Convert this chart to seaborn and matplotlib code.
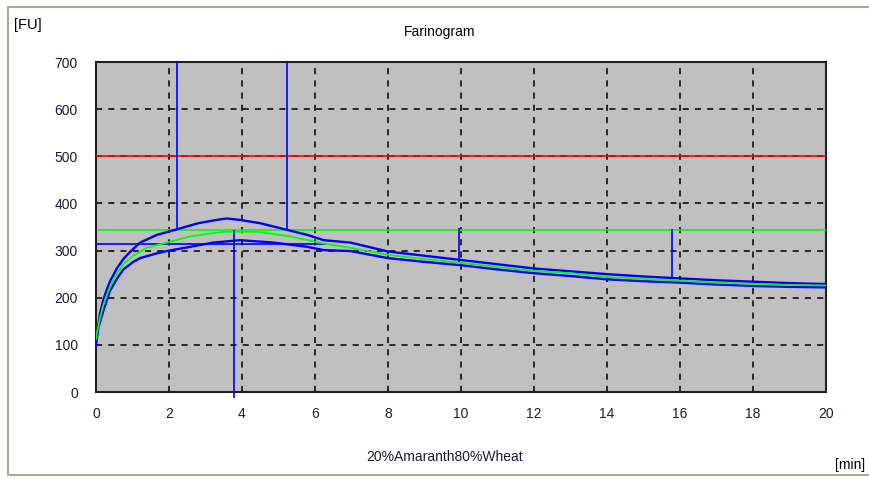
import matplotlib
matplotlib.use("Agg")
import matplotlib.pyplot as plt
from matplotlib.lines import Line2D
import seaborn as sns
import pandas as pd

# ---- data ----
t_upper = [0, 0.03, 0.11, 0.2, 0.29, 0.38, 0.57, 0.75, 0.93, 1.21, 1.66, 2.21, 2.8,
           3.3, 3.58, 3.95, 4.5, 5.23, 5.8, 6.24, 6.97, 8, 9, 10, 11, 12, 13, 14,
           15, 16, 17, 18, 19, 20]
upper = [108, 124, 167, 195, 216, 234, 262, 282, 297, 317, 333, 345, 358,
         365, 368, 365, 358, 344, 333, 322, 317, 298, 289, 280, 271, 262, 256, 250,
         245, 241, 237, 234, 231, 229]

t_lower = [0, 0.06, 0.2, 0.38, 0.57, 0.75, 1.02, 1.21, 1.66, 1.94, 2.58, 3.22, 3.95,
           4.86, 5.78, 6.24, 6.97, 8, 9, 10, 11, 12, 13, 14, 15, 16, 17, 18, 19, 20]
lower = [100, 135, 172, 214, 240, 260, 276, 284, 294, 299, 308, 317, 322,
         317, 308, 301, 299, 284, 276, 269, 260, 252, 246, 239, 235, 232, 228, 225,
         223, 222]

t_mean = [0, 0.02, 0.11, 0.2, 0.29, 0.48, 0.75, 1.02, 1.39, 1.94, 2.58, 3.49, 4.41,
          5.32, 6.24, 6.97, 8, 9, 10, 11, 12, 13, 14, 15, 16, 17, 18, 19, 20]
mean = [112, 124, 158, 184, 205, 240, 271, 289, 306, 317, 330, 340, 340,
        330, 315, 306, 291, 282, 274, 265, 257, 252, 244, 240, 236, 232, 229, 227, 226]

marker_t = [2.22, 5.24, 3.79, 9.94, 15.79]
marker_from = [700, 700, 343, 347, 345]
marker_to = [345, 344, -13, 276, 245]

consistency_line = 500
band_line = 343
band_start = 0.06
dev_line = 315
dev_end = 6.3

x_ticks = [0, 2, 4, 6, 8, 10, 12, 14, 16, 18, 20]
y_ticks = [0, 100, 200, 300, 400, 500, 600, 700]

title = "Farinogram"
sample = "20%Amaranth80%Wheat"

# ---- plot ----
sns.set_theme(style="white")
plt.rcParams['font.family'] = ['Liberation Sans', 'DejaVu Sans']

fig = plt.figure(figsize=(8.70, 4.79), dpi=100)
fig.patch.set_facecolor("white")
ax = fig.add_axes([96/870, 1-392/479, 730/870, 330/479])
ax.set_facecolor("#C0C0C0")

df_u = pd.DataFrame({"t": t_upper, "v": upper})
df_l = pd.DataFrame({"t": t_lower, "v": lower})
df_m = pd.DataFrame({"t": t_mean, "v": mean})

blue = "#0000FF"
green = "#00FF00"

ax.axhline(consistency_line, color="#FF0000", lw=1.2, zorder=3)
ax.hlines(band_line, band_start, 20, color=green, lw=1.2, zorder=3)

sns.lineplot(data=df_u, x="t", y="v", ax=ax, color=blue, lw=1.7, zorder=4, estimator=None, sort=False)
sns.lineplot(data=df_l, x="t", y="v", ax=ax, color=blue, lw=1.7, zorder=4, estimator=None, sort=False)
sns.lineplot(data=df_m, x="t", y="v", ax=ax, color=green, lw=1.3, zorder=5, estimator=None, sort=False)

ax.hlines(dev_line, 0, dev_end, color=blue, lw=1.2, zorder=4)
for t, a, b in zip(marker_t, marker_from, marker_to):
    ax.vlines(t, b, a, color=blue, lw=1.2, zorder=6, clip_on=False)

ax.set_xlim(0, 20)
ax.set_ylim(0, 700)
ax.set_xticks(x_ticks)
ax.set_yticks(y_ticks)
ax.set_xticklabels([str(v) for v in x_ticks])
ax.set_yticklabels([str(v) for v in y_ticks])
ax.grid(True, color="black", linestyle=(0, (4, 4)), lw=1.1)
ax.set_axisbelow(True)
ax.set_xlabel("")
ax.set_ylabel("")

txtc = "#1c1c3c"
ax.tick_params(axis="x", direction="out", length=5, width=1.2, color="#333333",
               labelsize=10, labelcolor=txtc, pad=6)
ax.tick_params(axis="y", length=0, labelsize=10, labelcolor=txtc, pad=13)

for s in ax.spines.values():
    s.set_color("#202020")
    s.set_linewidth(1.5)

fig.text(440/870, 1-32/479, title, ha="center", va="center", fontsize=10, color="black")
fig.text(14/870, 1-25/479, "[FU]", ha="left", va="center", fontsize=10.5, color="black")
fig.text(445/870, 1-457/479, sample, ha="center", va="center", fontsize=10, color=txtc)
fig.text(835/870, 1-465/479, "[min]", ha="left", va="center", fontsize=10, color="black")

# outer frame
fc = "#ACA899"
fig.add_artist(Line2D([8/870, 1], [1-7/479, 1-7/479], color=fc, lw=1.5))
fig.add_artist(Line2D([8/870, 8/870], [1-7/479, 1-475/479], color=fc, lw=1.5))
fig.add_artist(Line2D([8/870, 1], [1-475/479, 1-475/479], color=fc, lw=1.5))

fig.savefig("out.png", dpi=100)
